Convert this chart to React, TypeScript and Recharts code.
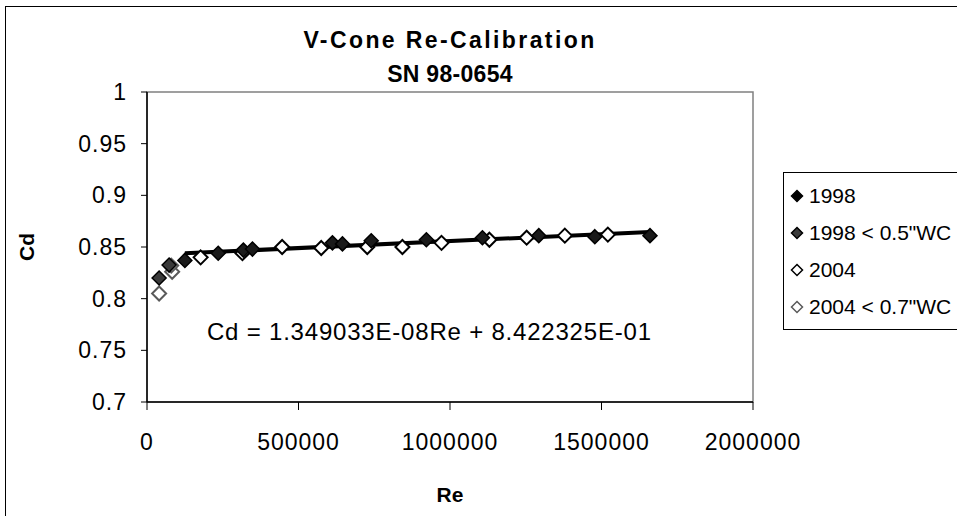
import React from 'react';
import {
  ScatterChart,
  Scatter,
  XAxis,
  YAxis,
  ReferenceArea,
  ReferenceDot,
} from 'recharts';

// Re / Cd pairs
const data1998 = [
  { re: 125000, cd: 0.837 },
  { re: 235000, cd: 0.844 },
  { re: 318000, cd: 0.847 },
  { re: 348000, cd: 0.848 },
  { re: 612000, cd: 0.854 },
  { re: 645000, cd: 0.853 },
  { re: 740000, cd: 0.856 },
  { re: 922000, cd: 0.857 },
  { re: 1107000, cd: 0.859 },
  { re: 1293000, cd: 0.861 },
  { re: 1478000, cd: 0.860 },
  { re: 1660000, cd: 0.861 },
];

const data1998Low = [
  { re: 40000, cd: 0.820 },
  { re: 73000, cd: 0.8325 },
];

const data2004 = [
  { re: 177000, cd: 0.840 },
  { re: 315000, cd: 0.844 },
  { re: 446000, cd: 0.850 },
  { re: 575000, cd: 0.849 },
  { re: 727000, cd: 0.850 },
  { re: 843000, cd: 0.850 },
  { re: 972000, cd: 0.854 },
  { re: 1130000, cd: 0.857 },
  { re: 1253000, cd: 0.859 },
  { re: 1379000, cd: 0.861 },
  { re: 1521000, cd: 0.862 },
];

const data2004Low = [
  { re: 40000, cd: 0.805 },
  { re: 83000, cd: 0.826 },
  { re: 80000, cd: 0.832 },
];

// linear trend line end points
const trendLine = [
  { re: 125000, cd: 0.8439 },
  { re: 1660000, cd: 0.8646 },
];

const xTicks = [0, 500000, 1000000, 1500000, 2000000];
const yTicks = [0.7, 0.75, 0.8, 0.85, 0.9, 0.95, 1];

const equation = 'Cd = 1.349033E-08Re + 8.422325E-01';

const legendItems = [
  { name: '1998', fill: '#000000', stroke: '#000000' },
  { name: '1998 < 0.5"WC', fill: '#3a3a3a', stroke: '#000000' },
  { name: '2004', fill: '#ffffff', stroke: '#000000' },
  { name: '2004 < 0.7"WC', fill: '#ffffff', stroke: '#5a5a5a' },
];

const FONT = '"Liberation Sans", Arial, sans-serif';

const tickStyle = { fill: '#000', fontSize: 23, fontFamily: FONT, letterSpacing: 1 };
const axisLabelStyle = { fontWeight: 'bold', fontSize: 21, fill: '#000', fontFamily: FONT };

const makeDiamond = (fill: string, stroke: string, sw: number) => (props: any) => {
  const { cx, cy } = props;
  const h = 7;
  return (
    <path
      d={`M${cx},${cy - h}L${cx + h},${cy}L${cx},${cy + h}L${cx - h},${cy}Z`}
      fill={fill}
      stroke={stroke}
      strokeWidth={sw}
    />
  );
};

export default function App() {
  return (
    <div
      style={{
        position: 'absolute',
        left: 0,
        top: 0,
        width: 957,
        height: 516,
        overflow: 'hidden',
        background: '#fff',
        fontFamily: FONT,
      }}
    >
      <div
        style={{
          position: 'absolute',
          left: 5,
          top: 6,
          width: 1000,
          height: 600,
          border: '1.5px solid #000',
        }}
      />
      <div
        style={{
          position: 'absolute',
          left: 147,
          width: 606,
          top: 23,
          textAlign: 'center',
          fontWeight: 'bold',
          fontSize: 23,
          lineHeight: '34px',
        }}
      >
        <div style={{ letterSpacing: 2.4 }}>V-Cone Re-Calibration</div>
        <div style={{ letterSpacing: 0.3 }}>SN 98-0654</div>
      </div>
      <div style={{ position: 'absolute', left: 0, top: 0 }}>
        <ScatterChart
          width={957}
          height={516}
          margin={{ top: 92, right: 204, bottom: 84, left: 87 }}
        >
          <XAxis
            type="number"
            dataKey="re"
            domain={[0, 2000000]}
            ticks={xTicks}
            interval={0}
            height={30}
            tickSize={8}
            tickMargin={24}
            axisLine={{ stroke: '#000', strokeWidth: 1.5 }}
            tickLine={{ stroke: '#000' }}
            tick={tickStyle}
            label={{
              value: 'Re',
              position: 'insideBottom',
              offset: -70,
              style: axisLabelStyle,
            }}
          />
          <YAxis
            type="number"
            dataKey="cd"
            domain={[0.7, 1]}
            ticks={yTicks}
            interval={0}
            width={60}
            tickSize={6}
            tickMargin={14}
            axisLine={{ stroke: '#000', strokeWidth: 1.5 }}
            tickLine={{ stroke: '#000' }}
            tick={tickStyle}
            label={{
              value: 'Cd',
              angle: -90,
              position: 'insideLeft',
              offset: -60,
              style: { ...axisLabelStyle, textAnchor: 'middle' },
            }}
          />
          <ReferenceArea
            x1={0}
            x2={2000000}
            y1={0.7}
            y2={1}
            fill="none"
            stroke="#808080"
            strokeWidth={1.5}
            ifOverflow="visible"
          />
          <ReferenceDot
            x={932000}
            y={0.768}
            r={0}
            fill="none"
            stroke="none"
            label={{
              value: equation,
              position: 'center',
              style: { fontSize: 24, fill: '#000', fontFamily: FONT, letterSpacing: 0.8 },
            }}
          />
          <Scatter
            name="trend"
            data={trendLine}
            line={{ stroke: '#000', strokeWidth: 4 }}
            shape={() => null}
            legendType="none"
            isAnimationActive={false}
          />
          <Scatter
            name={'2004 < 0.7"WC'}
            data={data2004Low}
            shape={makeDiamond('#ffffff', '#5a5a5a', 2)}
            isAnimationActive={false}
          />
          <Scatter
            name="2004"
            data={data2004}
            shape={makeDiamond('#ffffff', '#000000', 2)}
            isAnimationActive={false}
          />
          <Scatter
            name={'1998 < 0.5"WC'}
            data={data1998Low}
            shape={makeDiamond('#3a3a3a', '#000000', 1.5)}
            isAnimationActive={false}
          />
          <Scatter
            name="1998"
            data={data1998}
            shape={makeDiamond('#1a1a1a', '#000000', 1.5)}
            isAnimationActive={false}
          />
        </ScatterChart>
      </div>
      <div
        style={{
          position: 'absolute',
          left: 783,
          top: 172,
          width: 200,
          height: 158,
          border: '1px solid #000',
          background: '#fff',
          padding: '4px 0 0 6px',
          boxSizing: 'border-box',
          fontSize: 21,
          color: '#000',
        }}
      >
        {legendItems.map((item) => (
          <div key={item.name} style={{ display: 'flex', alignItems: 'center', height: 37 }}>
            <svg width={14} height={14} style={{ marginRight: 5 }}>
              <path
                d="M7,1.5L12.5,7L7,12.5L1.5,7Z"
                fill={item.fill}
                stroke={item.stroke}
                strokeWidth={1.5}
              />
            </svg>
            <span>{item.name}</span>
          </div>
        ))}
      </div>
    </div>
  );
}
